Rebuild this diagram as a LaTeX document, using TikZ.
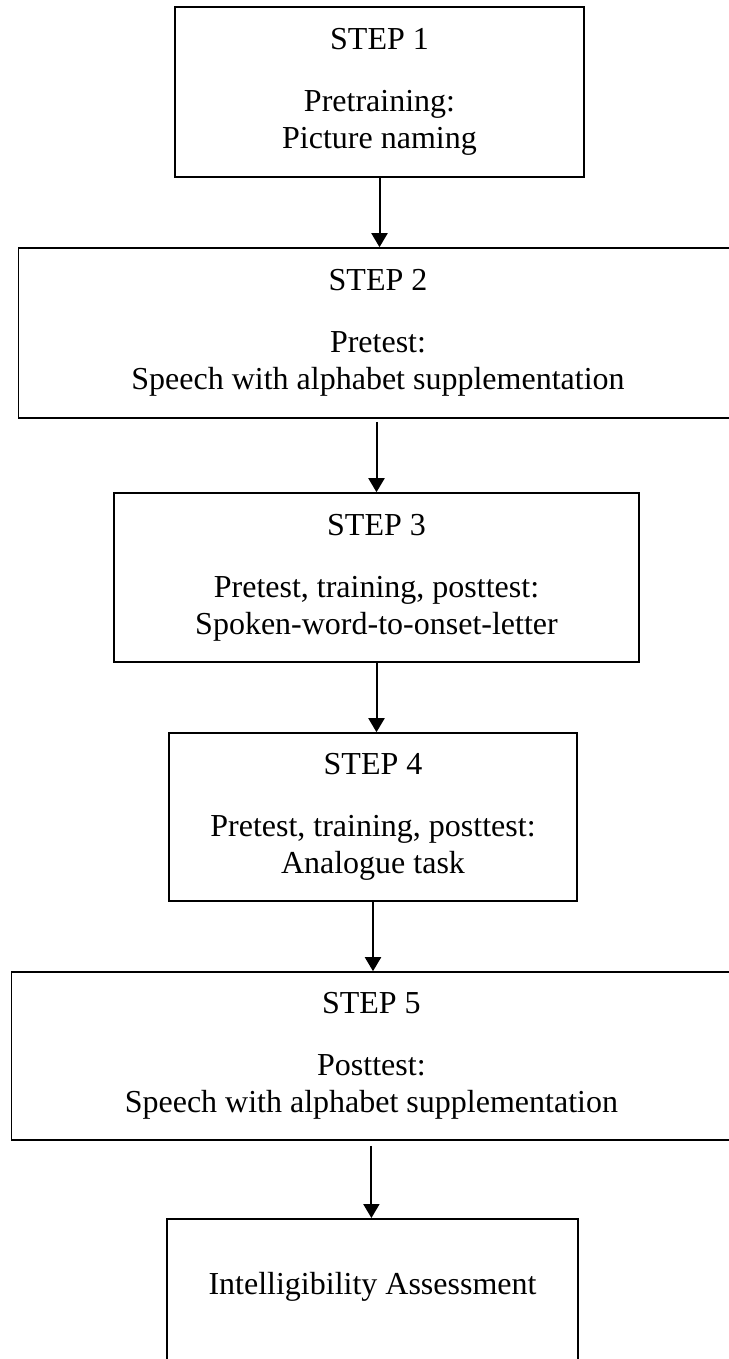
\documentclass[tikz,border=0pt]{standalone}
\usepackage{fontspec}
\setmainfont{Liberation Serif}
\usetikzlibrary{arrows.meta}

\begin{document}
\begin{tikzpicture}[x=0.5pt,y=-0.5pt,
  stepbox/.style={draw, line width=0.8pt, align=center, inner sep=0pt,
    font=\fontsize{16pt}{18.5pt}\selectfont},
  >={Triangle[length=7pt,width=8pt]}]
\useasboundingbox (0,0) rectangle (728,1359);
\node[stepbox, minimum width=204.5pt, minimum height=85pt] (step1) at (379.5,92)
  {STEP 1\\[12.5pt]Pretraining:\\Picture naming};
\node[stepbox, minimum width=359.5pt, minimum height=85pt] (step2) at (378,333)
  {STEP 2\\[12.5pt]Pretest:\\Speech with alphabet supplementation};
\node[stepbox, minimum width=262.5pt, minimum height=84.5pt] (step3) at (376.5,577.5)
  {STEP 3\\[12.5pt]Pretest, training, posttest:\\Spoken-word-to-onset-letter};
\node[stepbox, minimum width=204pt, minimum height=84pt] (step4) at (373,817)
  {STEP 4\\[12.5pt]Pretest, training, posttest:\\Analogue task};
\node[stepbox, minimum width=360pt, minimum height=84pt] (step5) at (371.4,1056)
  {STEP 5\\[12.5pt]Posttest:\\Speech with alphabet supplementation};
\node[stepbox, minimum width=205.5pt, text height=38pt, text depth=60pt, anchor=north] (assess) at (372.5,1218)
  {Intelligibility Assessment};
\draw[->, line width=1pt] (step1.south) -- (step1.south |- step2.north);
\draw[->, line width=1pt, shorten <=1.5pt] (step3.north |- step2.south) -- (step3.north);
\draw[->, line width=1pt] (step3.south) -- (step3.south |- step4.north);
\draw[->, line width=1pt] (step4.north |- step4.south) -- (step4.north |- step5.north);
\draw[->, line width=1pt, shorten <=2.5pt] (step5.south) -- (step5.south |- assess.north);
\end{tikzpicture}
\end{document}
